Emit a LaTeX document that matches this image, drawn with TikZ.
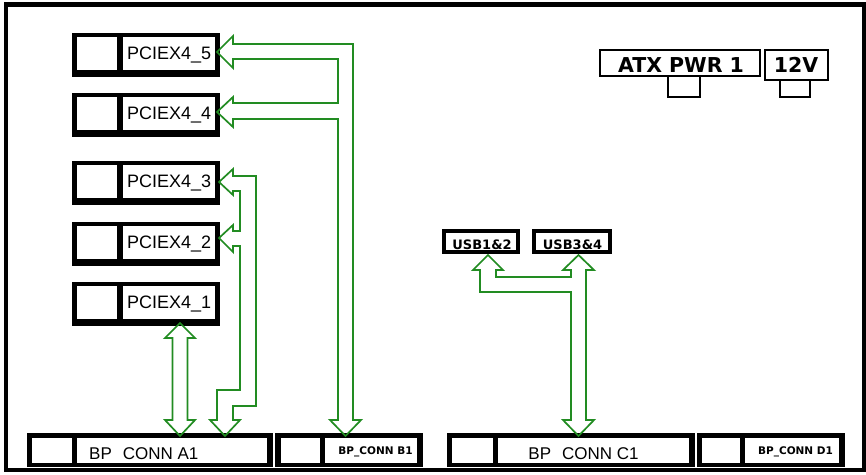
\documentclass[tikz,border=0pt]{standalone}
\usepackage{fontspec}
\setmainfont{Liberation Sans}
\newfontfamily\djv{DejaVu Sans}
\definecolor{agreen}{RGB}{34,140,34}
\newcommand{\mkrect}[6]{\node[#1, anchor=north west, minimum width={(#5)-(#3)}, minimum height={(#6)-(#4)}] (#2) at (#3,#4) {};}
\newcommand{\pcie}[3]{%
  \mkrect{blk}{#1}{72}{#2}{220}{#2+44}
  \mkrect{wht}{#1s}{77}{#2+4}{117}{#2+37}
  \mkrect{wht}{#1t}{123}{#2+4}{215}{#2+37}
  \node[pcilbl, anchor=base west] (#1l) at (127,#2+26.5) {#3};}
\begin{document}
\begin{tikzpicture}[x=1pt,y=-1pt,
  blk/.style={fill=black, draw=none, inner sep=0pt, outer sep=0pt},
  wht/.style={fill=white, draw=none, inner sep=0pt, outer sep=0pt},
  pwr/.style={fill=white, draw=black, line width=1.8pt, inner sep=0pt, outer sep=0pt},
  tab/.style={fill=white, draw=black, line width=1.3pt, inner sep=0pt, outer sep=0pt},
  pcilbl/.style={inner sep=0pt, font=\fontsize{18}{20}\selectfont},
  conlbl/.style={inner sep=0pt, font=\fontsize{17}{19}\selectfont},
  smlbl/.style={inner sep=0pt, font=\djv\bfseries\fontsize{10.5}{12}\selectfont},
  usblbl/.style={inner sep=0pt, font=\djv\bfseries\fontsize{13}{15}\selectfont},
  pwrlbl/.style={inner sep=0pt, font=\djv\bfseries\fontsize{20.5}{23}\selectfont},
  garrow/.style={draw=agreen, line width=1.7pt, line join=miter}]
\useasboundingbox (0,0) rectangle (866,474);
\fill[white] (0,0) rectangle (866,474);
% frame
\draw[line width=4.5pt] (6,4.5) rectangle (864,470);
% PCIE slots
\pcie{p5}{33}{PCIEX4\_5}
\pcie{p4}{93}{PCIEX4\_4}
\pcie{p3}{161}{PCIEX4\_3}
\pcie{p2}{222}{PCIEX4\_2}
\pcie{p1}{282}{PCIEX4\_1}
% bottom connectors
\mkrect{blk}{a1}{27}{433}{273}{467}
\mkrect{wht}{a1s}{32}{438}{72}{463}
\mkrect{wht}{a1t}{77}{438}{267}{463}
\node[conlbl, anchor=base west] (a1l) at (89,459) {BP\hspace{11pt}CONN A1};
\mkrect{blk}{b1}{275}{433}{423}{467}
\mkrect{wht}{b1s}{281}{438}{320}{463}
\mkrect{wht}{b1t}{325}{438}{417}{463}
\node[smlbl, anchor=base] (b1l) at (375.5,454) {BP\_CONN B1};
\mkrect{blk}{c1}{447}{433}{695}{467}
\mkrect{wht}{c1s}{452}{438}{493}{463}
\mkrect{wht}{c1t}{498}{438}{689}{463}
\node[conlbl, anchor=base] (c1l) at (583.5,459) {BP\hspace{11pt}CONN C1};
\mkrect{blk}{d1}{697}{433}{845}{467}
\mkrect{wht}{d1s}{702}{438}{740}{463}
\mkrect{wht}{d1t}{745}{438}{839}{463}
\node[smlbl, anchor=base] (d1l) at (795.5,454) {BP\_CONN D1};
% USB
\mkrect{blk}{u12}{442}{229}{520}{254}
\mkrect{wht}{u12i}{446}{233}{516}{250}
\node[usblbl, anchor=base] (u12l) at (482,249.5) {USB1\&2};
\mkrect{blk}{u34}{532}{229}{612}{254}
\mkrect{wht}{u34i}{536}{233}{608}{250}
\node[usblbl, anchor=base] (u34l) at (572.5,249.5) {USB3\&4};
% power
\mkrect{pwr}{atx}{600}{50}{760}{76}
\mkrect{tab}{atxt}{668}{76}{700}{97}
\node[pwrlbl, anchor=base] (atxl) at (681,72.5) {ATX PWR 1};
\mkrect{pwr}{v12}{765}{50}{828}{80}
\mkrect{tab}{v12t}{780}{80}{810}{97}
\node[pwrlbl, anchor=base] (v12l) at (796,72.5) {12V};
% arrow PCIE5/PCIE4 -> B1
\draw[garrow] (217,52) -- (233,36) -- (233,44) -- (353,44) -- (353,420) -- (361,420)
  -- (345.5,436) -- (330,420) -- (338,420) -- (338,119) -- (233,119) -- (233,127)
  -- (217,112) -- (233,97) -- (233,103) -- (338,103) -- (338,59) -- (233,59)
  -- (233,68) -- cycle;
% arrow PCIE3/PCIE2 -> A1
\draw[garrow] (219,182) -- (233,169) -- (233,176) -- (256,176) -- (256,406) -- (233,406)
  -- (233,420) -- (240,420) -- (225,436) -- (210,420) -- (217,420) -- (217,390)
  -- (240,390) -- (240,246) -- (233,246) -- (233,252) -- (219,238) -- (233,225)
  -- (233,231) -- (240,231) -- (240,191) -- (233,191) -- (233,195) -- cycle;
% arrow PCIE1 <-> A1
\draw[garrow] (180,323) -- (195,338) -- (187.5,338) -- (187.5,420) -- (195,420)
  -- (180,436) -- (165,420) -- (172.5,420) -- (172.5,338) -- (165,338) -- cycle;
% arrow USB <-> C1
\draw[garrow] (488,255) -- (503,270) -- (496,270) -- (496,277) -- (571,277) -- (571,270)
  -- (563,270) -- (578.5,255) -- (594,270) -- (586,270) -- (586,420) -- (594,420)
  -- (578.5,436) -- (563,420) -- (571,420) -- (571,292) -- (480,292) -- (480,270)
  -- (473,270) -- cycle;
\end{tikzpicture}
\end{document}
